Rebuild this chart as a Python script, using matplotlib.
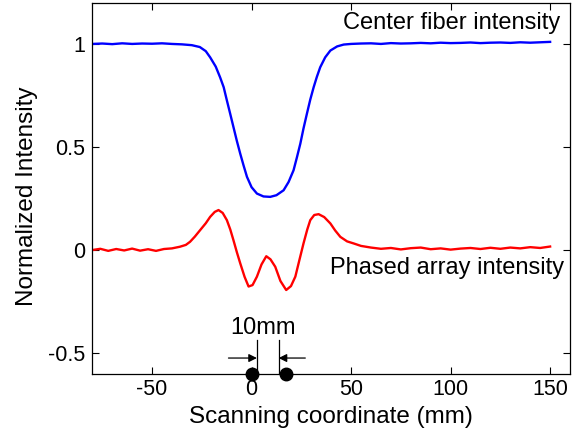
import matplotlib
matplotlib.use("Agg")
import matplotlib.pyplot as plt

plt.rcParams['font.family'] = ['Liberation Sans', 'DejaVu Sans']

# center fiber intensity (blue)
center_x = [-80, -75, -70, -65, -60, -55, -50, -45, -40, -35, -30, -26, -23, -20.8,
            -18, -15.8, -14, -12.4, -10.7, -9.1, -7.4, -5.7, -4, -2.3, 0, 2.7, 6,
            9.4, 12.5, 16.1, 18.6, 21.1, 22.8, 24.5, 26.1, 27.8, 29.5, 31.2, 32.8,
            34.5, 37, 39.6, 43, 46.3, 50, 55, 60, 65, 70, 75, 80, 85, 90, 95, 100,
            105, 110, 115, 120, 125, 130, 135, 140, 145, 150]
center_y = [1.0, 1.002, 0.999, 1.003, 1.0, 1.002, 1.001, 1.003, 1.0, 0.998, 0.994,
            0.985, 0.965, 0.935, 0.89, 0.838, 0.79, 0.726, 0.66, 0.597, 0.53, 0.468,
            0.41, 0.355, 0.305, 0.274, 0.26, 0.258, 0.266, 0.29, 0.33, 0.387, 0.45,
            0.516, 0.59, 0.661, 0.73, 0.79, 0.84, 0.887, 0.935, 0.968, 0.988, 0.997,
            1.0, 1.002, 1.003, 1.0, 1.004, 1.002, 1.003, 1.005, 1.003, 1.006, 1.004,
            1.005, 1.007, 1.004, 1.006, 1.007, 1.005, 1.008, 1.006, 1.008, 1.01]

# phased array intensity (red)
array_x = [-80, -76, -72, -68, -64, -60, -56, -52, -48, -44, -40, -36, -33, -30.9,
           -28.5, -25.8, -23, -20.8, -18.5, -16.6, -14.5, -12.4, -10.7, -9.1, -7.4,
           -5.7, -3.5, -1.5, 0.5, 2.7, 5, 7.4, 9.5, 11.9, 14.5, 17.4, 19.8, 22, 24,
           26.1, 28, 29.5, 31.5, 33.7, 36.5, 39.6, 42, 44.6, 48, 51.3, 55, 60, 65,
           70, 75, 80, 85, 90, 95, 100, 105, 110, 115, 120, 125, 130, 135, 140,
           145, 150]
array_y = [0.0, 0.006, -0.004, 0.005, -0.002, 0.007, -0.003, 0.004, -0.004, 0.005,
           0.008, 0.016, 0.025, 0.04, 0.065, 0.097, 0.13, 0.161, 0.185, 0.194, 0.18,
           0.145, 0.1, 0.048, -0.01, -0.064, -0.13, -0.177, -0.17, -0.129, -0.07,
           -0.03, -0.045, -0.081, -0.15, -0.194, -0.175, -0.129, -0.05, 0.032, 0.1,
           0.145, 0.17, 0.174, 0.16, 0.129, 0.095, 0.064, 0.042, 0.032, 0.02, 0.012,
           0.006, 0.01, 0.003, 0.009, 0.012, 0.004, 0.008, 0.002, 0.007, 0.01,
           0.005, 0.011, 0.006, 0.012, 0.008, 0.014, 0.01, 0.017]

# element markers and 10mm spacing guide
dot_x = [0, 17.4]
guide_x = [2.7, 13.6]
guide_top = -0.435
arrow_y = -0.524
arrow_tails = [-11.6, 27.0]

xticks = [-50, 0, 50, 100, 150]
yticks = [-0.5, 0, 0.5, 1]

fig = plt.figure(figsize=(5.81, 4.38), dpi=100)
ax = fig.add_axes([0.1589, 0.1468, 0.8222, 0.8470])

ax.plot(center_x, center_y, color='#0000ff', lw=1.7)
ax.plot(array_x, array_y, color='#ff0000', lw=1.7)

ax.set_xlim(-80, 160)
ax.set_ylim(-0.6, 1.2)
ax.set_xticks(xticks)
ax.set_yticks(yticks)
ax.set_xticklabels([str(t) for t in xticks])
ax.set_yticklabels(['-0.5', '0', '0.5', '1'])
ax.tick_params(direction='in', top=True, right=True, length=5, width=0.8,
               labelsize=15.5)
ax.tick_params(axis='x', pad=4)
ax.tick_params(axis='y', pad=5)
for s in ax.spines.values():
    s.set_linewidth(0.9)

ax.set_xlabel('Scanning coordinate (mm)', fontsize=17.5)
ax.set_ylabel('Normalized Intensity', fontsize=17.5)
ax.xaxis.set_label_coords(0.5, -0.086)
ax.yaxis.set_label_coords(-0.114, 0.477)

ax.text(155, 1.10, 'Center fiber intensity', fontsize=17, ha='right', va='center')
ax.text(157, -0.087, 'Phased array intensity', fontsize=17, ha='right', va='center')
ax.text(5.6, -0.377, '10mm', fontsize=17, ha='center', va='center')

ylo = ax.get_ylim()[0]
for gx in guide_x:
    ax.plot([gx, gx], [guide_top, ylo], color='black', lw=0.9)
for tail, head in zip(arrow_tails, guide_x):
    ax.annotate('', xy=(head, arrow_y), xytext=(tail, arrow_y),
                arrowprops=dict(arrowstyle='-|>', color='black', lw=0.9,
                                mutation_scale=12, shrinkA=0, shrinkB=0))
ax.plot(dot_x, [ylo] * len(dot_x), 'o', color='black', ms=9, clip_on=False, zorder=5)

fig.savefig('out.png', dpi=100)
